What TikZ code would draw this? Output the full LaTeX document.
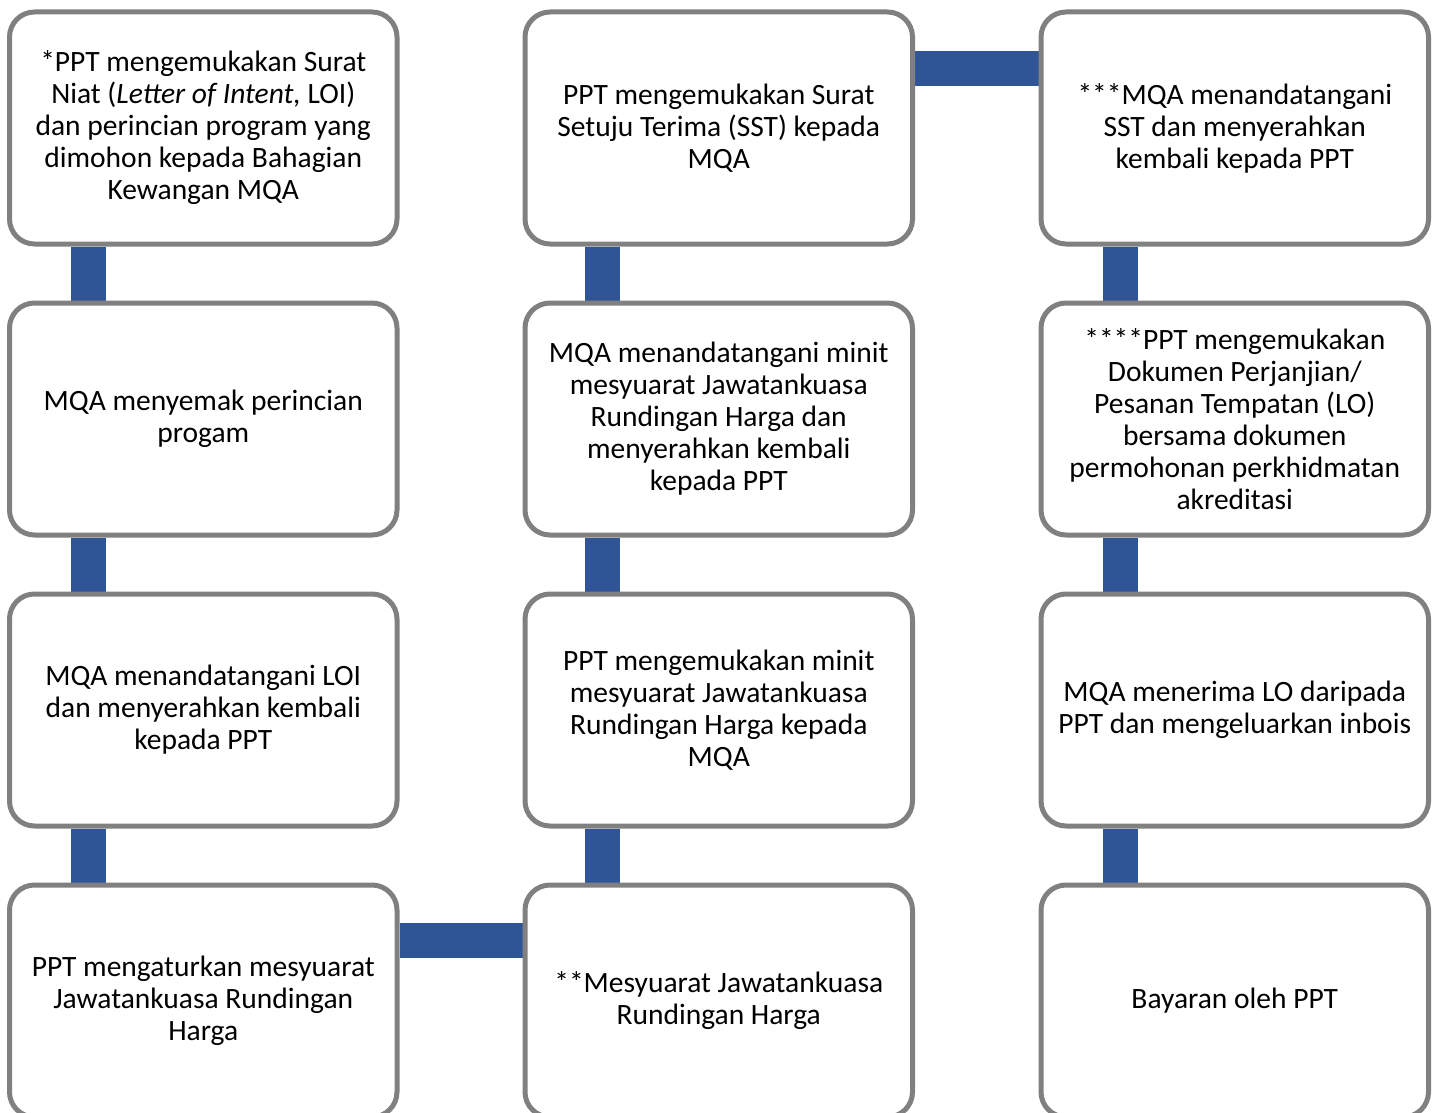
\documentclass[tikz,border=0pt]{standalone}
\usepackage{fontspec}
\setmainfont{Carlito}
\usetikzlibrary{calc,backgrounds}
\definecolor{boxgray}{HTML}{808080}
\definecolor{barblue}{HTML}{2F5597}
\begin{document}
\begin{tikzpicture}[x=1pt,y=-1pt,
  stepbox/.style={draw=boxgray, line width=5pt, fill=white, rounded corners=25pt,
    minimum width=387.5pt, minimum height=232pt, inner sep=0pt, align=center,
    font=\fontsize{29.5}{32}\selectfont},
  bar/.style={draw=barblue, line width=35pt}]
\clip (0,0) rectangle (1435,1113);
\useasboundingbox (0,0) rectangle (1435,1113);
% column 1
\node[stepbox] (a1) at (203.25,128) {*PPT mengemukakan Surat\\Niat (\textit{Letter of Intent,} LOI)\\dan perincian program yang\\dimohon kepada Bahagian\\Kewangan MQA};
\node[stepbox] (a2) at (203.25,419) {MQA menyemak perincian\\progam};
\node[stepbox] (a3) at (203.25,710) {MQA menandatangani LOI\\dan menyerahkan kembali\\kepada PPT};
\node[stepbox] (a4) at (203.25,1001) {PPT mengaturkan mesyuarat\\Jawatankuasa Rundingan\\Harga};
% column 2
\node[stepbox] (b1) at (718.75,128) {PPT mengemukakan Surat\\Setuju Terima (SST) kepada\\MQA};
\node[stepbox] (b2) at (718.75,419) {MQA menandatangani minit\\mesyuarat Jawatankuasa\\Rundingan Harga dan\\menyerahkan kembali\\kepada PPT};
\node[stepbox] (b3) at (718.75,710) {PPT mengemukakan minit\\mesyuarat Jawatankuasa\\Rundingan Harga kepada\\MQA};
\node[stepbox] (b4) at (718.75,1001) {**Mesyuarat Jawatankuasa\\Rundingan Harga};
% column 3
\node[stepbox] (c1) at (1234.75,128) {***MQA menandatangani\\SST dan menyerahkan\\kembali kepada PPT};
\node[stepbox] (c2) at (1234.75,419) {****PPT mengemukakan\\Dokumen Perjanjian/\\Pesanan Tempatan (LO)\\bersama dokumen\\permohonan perkhidmatan\\akreditasi};
\node[stepbox] (c3) at (1234.75,710) {MQA menerima LO daripada\\PPT dan mengeluarkan inbois};
\node[stepbox] (c4) at (1234.75,1001) {Bayaran oleh PPT};
% connectors
\begin{scope}[on background layer]
\draw[bar] ($(a1.south west)+(81.5,0)$) -- ($(a2.north west)+(81.5,0)$);
\draw[bar] ($(a2.south west)+(81.5,0)$) -- ($(a3.north west)+(81.5,0)$);
\draw[bar] ($(a3.south west)+(81.5,0)$) -- ($(a4.north west)+(81.5,0)$);
\draw[bar] ($(a4.north east)+(0,58)$) -- ($(b4.north west)+(0,58)$);
\draw[bar] ($(b4.north west)+(80,0)$) -- ($(b3.south west)+(80,0)$);
\draw[bar] ($(b3.north west)+(80,0)$) -- ($(b2.south west)+(80,0)$);
\draw[bar] ($(b2.north west)+(80,0)$) -- ($(b1.south west)+(80,0)$);
\draw[bar] ($(b1.north east)+(0,59)$) -- ($(c1.north west)+(0,59)$);
\draw[bar] ($(c1.south west)+(81.5,0)$) -- ($(c2.north west)+(81.5,0)$);
\draw[bar] ($(c2.south west)+(81.5,0)$) -- ($(c3.north west)+(81.5,0)$);
\draw[bar] ($(c3.south west)+(81.5,0)$) -- ($(c4.north west)+(81.5,0)$);
\end{scope}
\end{tikzpicture}
\end{document}
